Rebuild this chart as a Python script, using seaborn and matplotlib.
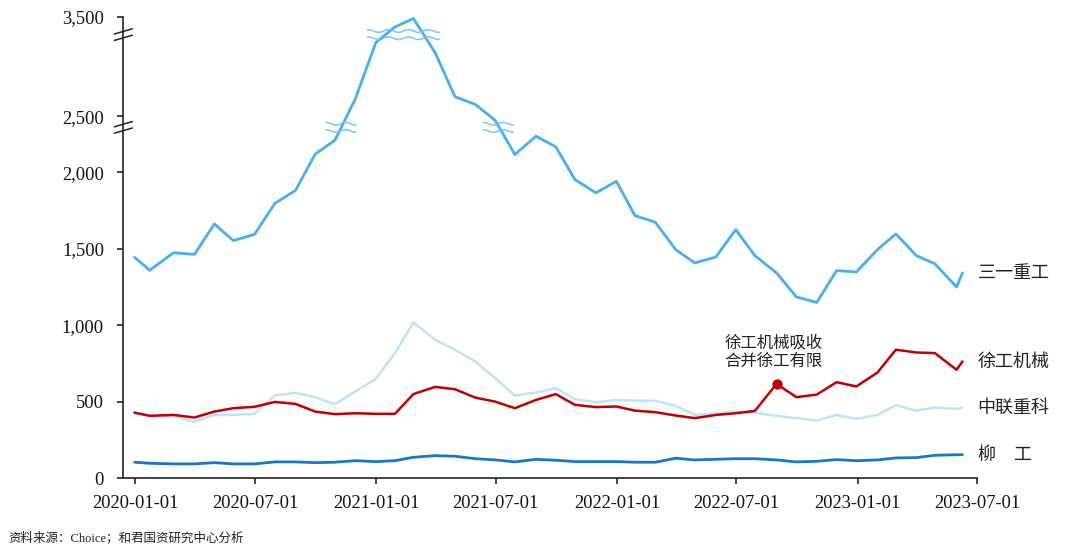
import numpy as np
import pandas as pd
import matplotlib
matplotlib.use("Agg")
import matplotlib.pyplot as plt
import matplotlib.dates as mdates
from matplotlib.ticker import FuncFormatter, FixedLocator
import seaborn as sns

# ---------------- data ----------------
dates = ["2019-12-31", "2020-01-23", "2020-02-28", "2020-03-31", "2020-04-30", "2020-05-29",
         "2020-06-30", "2020-07-31", "2020-08-31", "2020-09-30", "2020-10-30", "2020-11-30",
         "2020-12-31", "2021-01-29", "2021-02-26", "2021-03-31", "2021-04-30", "2021-05-31",
         "2021-06-30", "2021-07-30", "2021-08-31", "2021-09-30", "2021-10-29", "2021-11-30",
         "2021-12-31", "2022-01-28", "2022-02-28", "2022-03-31", "2022-04-29", "2022-05-31",
         "2022-06-30", "2022-07-29", "2022-08-31", "2022-09-30", "2022-10-31", "2022-11-30",
         "2022-12-30", "2023-01-31", "2023-02-28", "2023-03-31", "2023-04-28", "2023-05-31",
         "2023-06-09"]

sany = [1444, 1359, 1474, 1463, 1662, 1553, 1594, 1797, 1880, 2161, 2286, 2675,
        3240, 3397, 3482, 3139, 2696, 2618, 2464, 2158, 2321, 2227, 1952, 1865,
        1941, 1717, 1673, 1494, 1407, 1446, 1625, 1455, 1342, 1185, 1149, 1357,
        1348, 1494, 1597, 1455, 1402, 1250, 1342]

xugong = [429, 408, 414, 397, 436, 458, 467, 499, 486, 436, 419, 425,
          421, 421, 550, 597, 582, 527, 501, 458, 512, 550, 480, 465,
          469, 442, 432, 410, 393, 414, 425, 440, 617, 530, 547, 628,
          600, 691, 840, 822, 818, 709, 763]

zoomlion = [429, 408, 403, 370, 414, 414, 421, 541, 558, 530, 484, 567,
            650, 818, 1018, 905, 840, 763, 654, 541, 560, 589, 517, 497,
            512, 508, 506, 473, 414, 425, 436, 429, 408, 393, 377, 414,
            388, 414, 478, 442, 462, 453, 462]

liugong = [105, 98, 94, 94, 102, 94, 94, 107, 107, 102, 105, 115,
           109, 115, 137, 148, 144, 128, 120, 107, 124, 118, 109, 109,
           109, 105, 105, 131, 120, 124, 128, 128, 120, 107, 111, 122,
           115, 120, 133, 135, 150, 154, 154]

companies = ["三一重工", "徐工机械", "中联重科", "柳\u3000工"]
colors = {"三一重工": "#47AFF4", "徐工机械": "#C00000",
          "中联重科": "#BFE3FB", "柳\u3000工": "#1677C9"}
widths = {"三一重工": 2.0, "徐工机械": 1.8, "中联重科": 1.8, "柳\u3000工": 2.0}

y_ticks = [0, 500, 1000, 1500, 2000, 2500, 3500]
x_ticks = ["2020-01-01", "2020-07-01", "2021-01-01", "2021-07-01", "2022-01-01",
           "2022-07-01", "2023-01-01", "2023-07-01"]
axis_breaks = [2400, 3320]          # values where the y axis is broken
event_index = 32                    # 徐工机械吸收合并徐工有限
event_text = "徐工机械吸收\n合并徐工有限"
source_text = "资料来源：Choice；和君国资研究中心分析"

# ------------- broken (piecewise) y scale -------------
V_KNOTS = np.array([0.0, 2000.0, 2500.0, 3500.0])
D_KNOTS = np.array([0.0, 2000.0, 2366.0, 3016.0])


def fwd(v):
    v = np.asarray(v, dtype=float)
    out = np.interp(v, V_KNOTS, D_KNOTS)
    out = np.where(v > V_KNOTS[-1], D_KNOTS[-1] + (v - V_KNOTS[-1]) * 0.65, out)
    out = np.where(v < 0, v, out)
    return out


def inv(d):
    d = np.asarray(d, dtype=float)
    out = np.interp(d, D_KNOTS, V_KNOTS)
    out = np.where(d > D_KNOTS[-1], V_KNOTS[-1] + (d - D_KNOTS[-1]) / 0.65, out)
    out = np.where(d < 0, d, out)
    return out


# ---------------- figure ----------------
sns.set_style("ticks")
plt.rcParams["font.family"] = ["Liberation Serif", "Noto Sans CJK SC"]
CJK = ["Noto Sans CJK SC", "DejaVu Sans"]
MIXED = ["Liberation Serif", "Noto Sans CJK SC"]

fig = plt.figure(figsize=(10.8, 5.5), dpi=100)
ax = fig.add_axes([0.1142, 0.1304, 0.7904, 0.8392])

df = pd.DataFrame({
    "date": pd.to_datetime(dates * 4),
    "value": sany + xugong + zoomlion + liugong,
    "company": sum([[c] * len(dates) for c in companies], []),
})

for comp in ["中联重科", "徐工机械", "柳\u3000工", "三一重工"]:
    sub = df[df["company"] == comp]
    sns.lineplot(data=sub, x="date", y="value", color=colors[comp],
                 linewidth=widths[comp], ax=ax, legend=False)

ax.set_yscale("function", functions=(fwd, inv))
ax.set_ylim(0, 3500)
ax.set_xlim(pd.Timestamp("2019-12-14"), pd.Timestamp("2023-07-01"))
ax.yaxis.set_major_locator(FixedLocator(y_ticks))
ax.yaxis.set_minor_locator(FixedLocator([]))
ax.yaxis.set_major_formatter(FuncFormatter(lambda v, p: f"{v:,.0f}"))
ax.set_xticks(pd.to_datetime(x_ticks))
ax.xaxis.set_major_formatter(mdates.DateFormatter("%Y-%m-%d"))
ax.set_xlabel("")
ax.set_ylabel("")
sns.despine(ax=ax)
for s in ["left", "bottom"]:
    ax.spines[s].set_linewidth(1.2)
    ax.spines[s].set_color("#222222")
ax.tick_params(axis="x", direction="out", length=4, width=1.1, pad=8,
               labelsize=13.3, colors="#111111")
ax.tick_params(axis="y", direction="out", length=4, width=1.1, pad=10,
               labelsize=13.3, colors="#111111")
ax.grid(False)

# event marker
ev_date = pd.Timestamp(dates[event_index])
ev_val = xugong[event_index]
ax.scatter([ev_date], [ev_val], s=55, color="#C00000", zorder=5, linewidths=0)
ax.annotate(event_text, xy=(ev_date, ev_val), xytext=(-2, 10),
            textcoords="offset points", ha="center", va="bottom",
            fontsize=11.8, family=CJK, color="#222222", linespacing=1.1)

# right-hand series labels
series = {"三一重工": sany, "徐工机械": xugong, "中联重科": zoomlion, "柳\u3000工": liugong}
for comp, vals in series.items():
    ax.annotate(comp, xy=(pd.Timestamp(dates[-1]), vals[-1]), xytext=(11, 0),
                textcoords="offset points", ha="left", va="center",
                fontsize=13, family=CJK, color="#222222", annotation_clip=False)

# ---- break decorations (drawn in axes coordinates) ----
to_axes = ax.transAxes.inverted()


def disp(date, val):
    return ax.transData.transform((mdates.date2num(pd.Timestamp(date)), val))


def draw_pts(xs, ys, **kw):
    pts = to_axes.transform(np.column_stack([xs, ys]))
    ax.plot(pts[:, 0], pts[:, 1], transform=ax.transAxes, clip_on=False, **kw)


# slashes across the y axis
for b in axis_breaks:
    cx, cy = ax.transAxes.transform((0, 0))[0], disp(dates[0], b)[1]
    for off in (-3.2, 3.2):
        draw_pts(np.array([cx - 9, cx + 9]), np.array([cy + off - 2.6, cy + off + 2.6]),
                 color="#222222", lw=1.1)

# wavy "≈" marks on the Sany line where it crosses a break
wave_marks = [("2020-11-08", axis_breaks[0], 30), ("2021-02-11", axis_breaks[1], 72),
              ("2021-07-05", axis_breaks[0], 30)]
for d, v, w in wave_marks:
    cx, cy = disp(d, v)
    t = np.linspace(-w / 2, w / 2, 80)
    for off in (-3.6, 3.6):
        draw_pts(cx + t, cy + off + 1.3 * np.sin(2 * np.pi * t / 20.0),
                 color="#6CC0F5", lw=1.1, alpha=0.9)

fig.text(8 / 1080, 1 - 538 / 550, source_text, fontsize=9, family=MIXED,
         color="#222222", ha="left", va="center")

fig.savefig("out.png", dpi=100)
